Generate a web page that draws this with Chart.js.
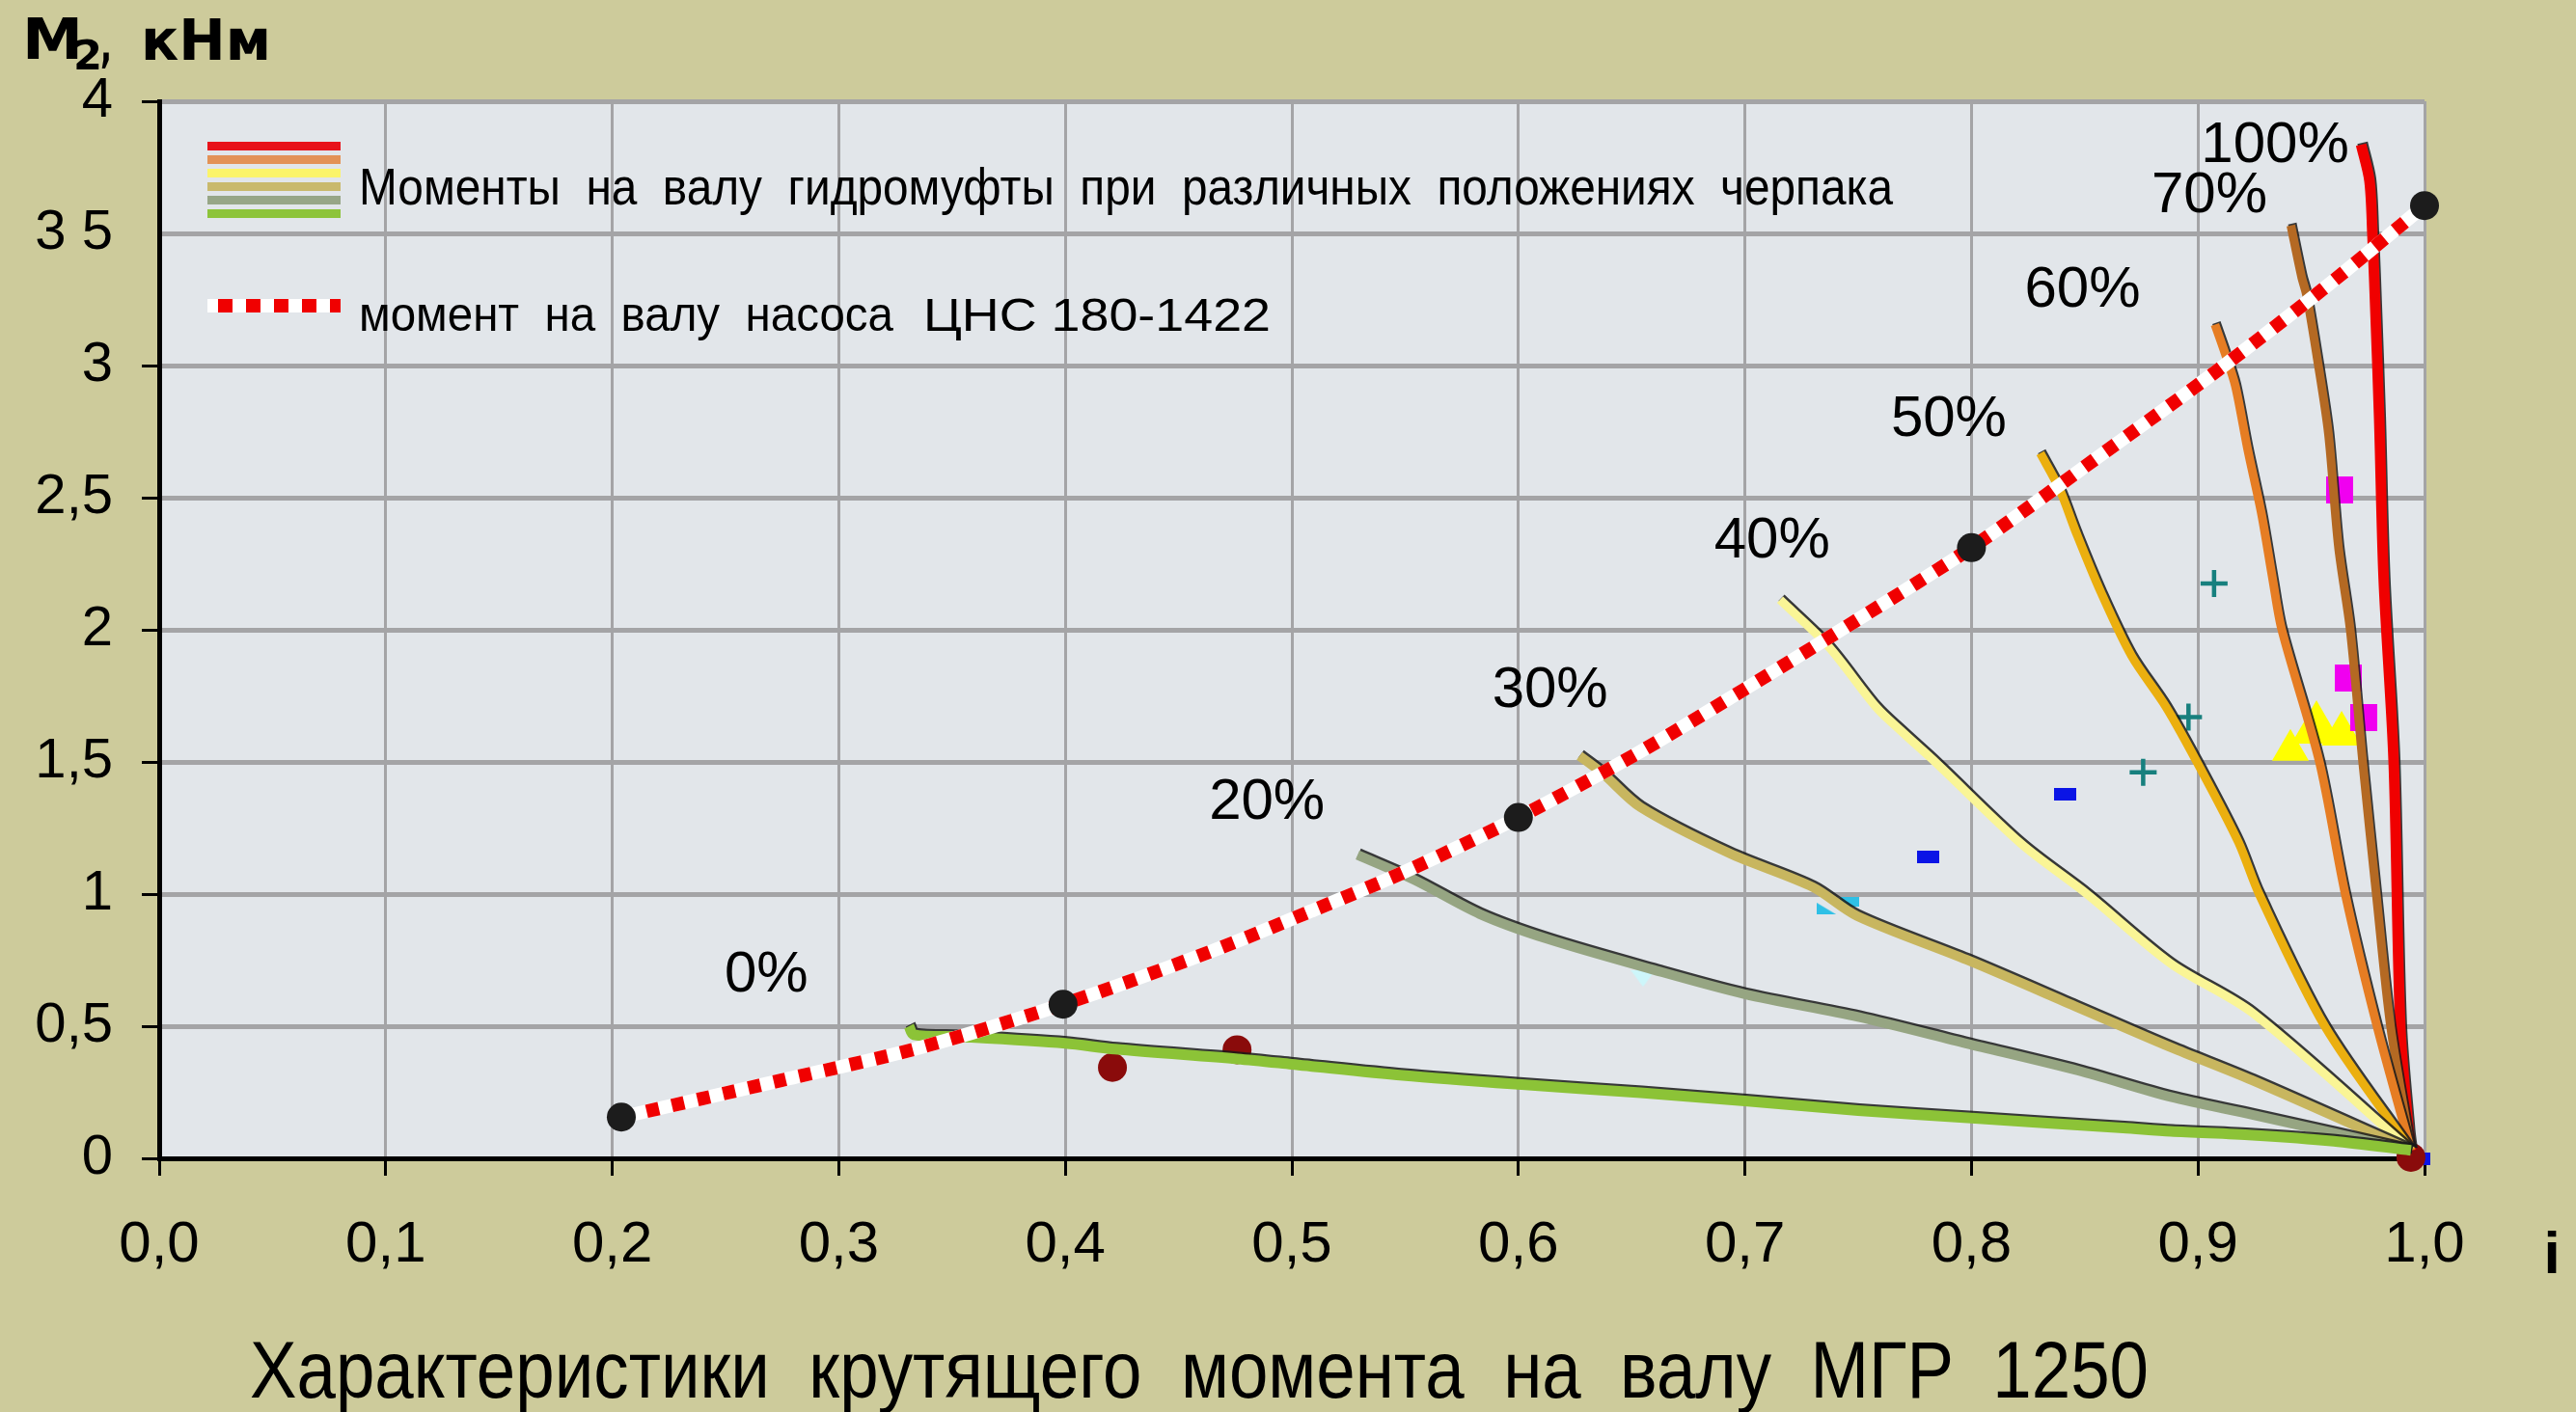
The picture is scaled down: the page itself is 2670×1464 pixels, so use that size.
<!DOCTYPE html>
<html lang="ru">
<head>
<meta charset="utf-8">
<title>Характеристики крутящего момента на валу МГР 1250</title>
<script src="https://cdn.jsdelivr.net/npm/chart.js@4.4.1/dist/chart.umd.min.js"></script>
<style>
  html, body { margin: 0; padding: 0; background: #CDCB9B; overflow: hidden; }
  canvas { display: block; }
</style>
</head>
<body>
<canvas id="chart" width="2670" height="1464"></canvas>
<script>
// ---- Axis tick labels ----
const xTickLabels = ['0,0', '0,1', '0,2', '0,3', '0,4', '0,5', '0,6', '0,7', '0,8', '0,9', '1,0'];
const yTickLabels = ['0', '0,5', '1', '1,5', '2', '2,5', '3', '3 5', '4'];

// ---- Scoop position captions ----
const scoopLabels = ['0%', '20%', '30%', '40%', '50%', '60%', '70%', '100%'];
const scoopLabelX = [0.268, 0.489, 0.614, 0.712, 0.790, 0.849, 0.905, 0.934];
const scoopLabelY = [0.691, 1.344, 1.770, 2.334, 2.794, 3.283, 3.639, 3.832];

// ---- Coupling shaft torque for each scoop position (i, M2) ----
const scoop0X   = [0.331, 0.333, 0.354, 0.400, 0.422, 0.476, 0.500, 0.549, 0.600, 0.654, 0.700, 0.750, 0.800, 0.867, 0.888, 0.924, 0.960, 0.994];
const scoop0Y   = [0.500, 0.468, 0.460, 0.435, 0.413, 0.376, 0.356, 0.314, 0.280, 0.248, 0.217, 0.181, 0.152, 0.115, 0.102, 0.088, 0.065, 0.030];
const scoop20X  = [0.529, 0.554, 0.583, 0.6125, 0.659, 0.700, 0.750, 0.798, 0.847, 0.888, 0.924, 0.994];
const scoop20Y  = [1.148, 1.054, 0.924, 0.831, 0.715, 0.621, 0.535, 0.434, 0.332, 0.232, 0.165, 0.030];
const scoop30X  = [0.627, 0.637, 0.654, 0.693, 0.730, 0.7495, 0.798, 0.847, 0.888, 0.924, 0.994];
const scoop30Y  = [1.523, 1.458, 1.328, 1.155, 1.026, 0.917, 0.751, 0.571, 0.420, 0.295, 0.030];
const scoop40X  = [0.7155, 0.7368, 0.758, 0.770, 0.784, 0.822, 0.851, 0.888, 0.924, 0.994];
const scoop40Y  = [2.114, 1.938, 1.707, 1.609, 1.500, 1.190, 1.000, 0.737, 0.551, 0.030];
const scoop50X  = [0.8304, 0.8388, 0.8464, 0.857, 0.8707, 0.886, 0.9011, 0.9179, 0.927, 0.956, 0.994];
const scoop50Y  = [2.668, 2.534, 2.364, 2.145, 1.901, 1.707, 1.475, 1.196, 1.000, 0.500, 0.030];
const scoop60X  = [0.9075, 0.912, 0.9165, 0.922, 0.928, 0.933, 0.937, 0.9536, 0.965, 0.979, 0.994];
const scoop60Y  = [3.155, 3.045, 2.923, 2.680, 2.440, 2.190, 2.000, 1.500, 1.000, 0.500, 0.030];
const scoop70X  = [0.941, 0.9457, 0.948, 0.953, 0.9576, 0.962, 0.9672, 0.9727, 0.9787, 0.985, 0.994];
const scoop70Y  = [3.530, 3.337, 3.264, 3.008, 2.741, 2.315, 2.000, 1.500, 1.000, 0.500, 0.030];
const scoop100X = [0.972, 0.9757, 0.977, 0.9785, 0.980, 0.982, 0.9864, 0.9893, 0.993, 0.994];
const scoop100Y = [3.836, 3.700, 3.500, 3.168, 2.800, 2.190, 1.500, 0.500, 0.100, 0.030];

// ---- Pump ЦНС 180-1422 shaft torque ----
const pumpX    = [0.204, 0.275, 0.335, 0.399, 0.464, 0.508, 0.550, 0.600, 0.652, 0.700, 0.750, 0.800, 0.864, 0.909, 0.955, 1.000];
const pumpY    = [0.156, 0.296, 0.417, 0.583, 0.782, 0.934, 1.085, 1.290, 1.530, 1.776, 2.040, 2.311, 2.704, 2.984, 3.288, 3.605];
const pumpDotX = [0.204, 0.399, 0.600, 0.800, 1.000];
const pumpDotY = [0.156, 0.583, 1.290, 2.311, 3.605];

// ---- Measured points ----
const maroonX  = [0.4208, 0.4758, 0.994];
const maroonY  = [0.344, 0.411, 0.004];
const blueX    = [0.7808, 0.8415, 0.9975];
const blueY    = [1.141, 1.378, 0.000];
const cyanX    = [0.746];
const cyanY    = [0.970];
const cyanTriX = [0.736];
const cyanTriY = [0.945];
const paleX    = [0.655];
const paleY    = [0.680];
const tealX    = [0.8758, 0.8958, 0.9071];
const tealY    = [1.461, 1.670, 2.175];
const magentaX = [0.9625, 0.9663, 0.973];
const magentaY = [2.529, 1.816, 1.668];
const yellowX  = [0.9408, 0.9523, 0.9634];
const yellowY  = [1.545, 1.624, 1.606];
const yellowR  = [22, 30, 24];

// ---- Styles ----
const scoopColors = ['#8CC337', '#96A582', '#C8B65F', '#FAF596', '#EBAF0F', '#E67D23', '#B46923', '#F00000'];
const scoopWidths = [11, 10, 10, 9, 9, 9, 9, 11];
const legendBarColors = ['#E8121A', '#E39256', '#FBF46A', '#C9B96C', '#97A687', '#8DC43A'];

const zip = (xs, ys) => xs.map((x, i) => ({ x, y: ys[i] }));

function sprite(w, h, color, shape) {
  const c = document.createElement('canvas');
  c.width = w; c.height = h;
  const g = c.getContext('2d');
  g.fillStyle = color;
  if (shape === 'rtri') {
    g.beginPath(); g.moveTo(0, 0); g.lineTo(w, h); g.lineTo(0, h); g.closePath(); g.fill();
  } else if (shape === 'dtri') {
    g.beginPath(); g.moveTo(0, 0); g.lineTo(w, 0); g.lineTo(w / 2, h); g.closePath(); g.fill();
  } else {
    g.fillRect(0, 0, w, h);
  }
  return c;
}

const curveSets = [
  [scoop0X, scoop0Y], [scoop20X, scoop20Y], [scoop30X, scoop30Y], [scoop40X, scoop40Y],
  [scoop50X, scoop50Y], [scoop60X, scoop60Y], [scoop70X, scoop70Y], [scoop100X, scoop100Y]
];

const datasets = [];

// markers lie beneath the curves
datasets.push({ label: 'maroon', data: zip(maroonX, maroonY), pointStyle: 'circle', pointRadius: 15,
  pointBackgroundColor: '#8A0B0B', pointBorderWidth: 0, order: 30, clip: false });
datasets.push({ label: 'blue', data: zip(blueX, blueY), pointStyle: sprite(23, 13, '#0A14E6'), pointRadius: 10, order: 30, clip: false });
datasets.push({ label: 'cyan', data: zip(cyanX, cyanY), pointStyle: sprite(20, 10, '#2FC0E6'), pointRadius: 10, order: 30 });
datasets.push({ label: 'cyanTri', data: zip(cyanTriX, cyanTriY), pointStyle: sprite(20, 12, '#2FC0E6', 'rtri'), pointRadius: 10, order: 30 });
datasets.push({ label: 'pale', data: zip(paleX, paleY), pointStyle: sprite(25, 17, '#CDF6FA', 'dtri'), pointRadius: 10, order: 30 });
datasets.push({ label: 'teal', data: zip(tealX, tealY), pointStyle: 'cross', pointRadius: 14,
  pointBorderColor: '#17807E', pointBorderWidth: 4.5, order: 30 });
datasets.push({ label: 'magenta', data: zip(magentaX, magentaY), pointStyle: sprite(28, 28, '#F000F0'), pointRadius: 10, order: 30 });
datasets.push({ label: 'yellow', data: zip(yellowX, yellowY), pointStyle: 'triangle', pointRadius: yellowR,
  pointBackgroundColor: '#FFFF00', pointBorderWidth: 0, order: 30 });

// coupling torque curves
curveSets.forEach(([xs, ys], i) => {
  datasets.push({
    label: scoopLabels[i], data: zip(xs, ys), showLine: true,
    borderColor: scoopColors[i], borderWidth: scoopWidths[i], pointRadius: 0,
    tension: 0.3, borderJoinStyle: 'round', borderCapStyle: 'butt',
    edgeColor: 'rgba(25,25,25,0.85)', order: 20
  });
});

// pump torque: white band with red dashes on top, then the black nodes
datasets.push({ label: 'pumpBase', data: zip(pumpX, pumpY), showLine: true, borderColor: '#FFFFFF',
  borderWidth: 14, pointRadius: 0, tension: 0.3, borderCapStyle: 'butt', order: 11 });
datasets.push({ label: 'pump', data: zip(pumpX, pumpY), showLine: true, borderColor: '#F00000',
  borderWidth: 14, borderDash: [13, 14], pointRadius: 0, tension: 0.3, borderCapStyle: 'butt', order: 10 });
datasets.push({ label: 'pumpDots', data: zip(pumpDotX, pumpDotY), pointStyle: 'circle', pointRadius: 15,
  pointBackgroundColor: '#1C1C1C', pointBorderWidth: 0, order: 0, clip: false });

// ---- Plugins ----
const backdrop = {
  id: 'backdrop',
  beforeDraw(chart) {
    const { ctx, chartArea: a } = chart;
    ctx.save();
    ctx.fillStyle = '#CDCB9B';
    ctx.fillRect(0, 0, chart.width, chart.height);
    ctx.fillStyle = '#E2E6EA';
    ctx.fillRect(a.left, a.top, a.right - a.left, a.bottom - a.top);
    ctx.restore();
  }
};

// thin dark edge along one side of each coupling curve
const curveEdge = {
  id: 'curveEdge',
  beforeDatasetDraw(chart, args) {
    const ds = chart.data.datasets[args.index];
    if (!ds.edgeColor) return;
    const ctx = chart.ctx;
    ctx.save();
    ctx.shadowColor = ds.edgeColor;
    ctx.shadowOffsetX = 1.5;
    ctx.shadowOffsetY = -2;
    ctx.shadowBlur = 0;
  },
  afterDatasetDraw(chart, args) {
    const ds = chart.data.datasets[args.index];
    if (ds.edgeColor) chart.ctx.restore();
  }
};

function fitText(ctx, text, x, y, w, font) {
  ctx.save();
  ctx.font = font;
  ctx.textAlign = 'left';
  ctx.textBaseline = 'alphabetic';
  const m = ctx.measureText(text).width;
  ctx.translate(x, y);
  ctx.scale(w / m, 1);
  ctx.fillText(text, 0, 0);
  ctx.restore();
}

const annotations = {
  id: 'annotations',
  afterDatasetsDraw(chart) {
    const { ctx, scales: { x, y } } = chart;
    ctx.save();
    ctx.fillStyle = '#000';
    // scoop position captions
    ctx.font = '60px "Liberation Sans", Arial, sans-serif';
    ctx.textAlign = 'center';
    ctx.textBaseline = 'middle';
    scoopLabels.forEach((t, i) => {
      ctx.fillText(t, x.getPixelForValue(scoopLabelX[i]), y.getPixelForValue(scoopLabelY[i]));
    });

    // legend: stacked colour bars for the coupling curves
    legendBarColors.forEach((c, i) => {
      ctx.fillStyle = c;
      ctx.fillRect(215, 147 + i * 14, 138, 9);
    });
    ctx.fillStyle = '#000';
    fitText(ctx, 'Моменты  на  валу  гидромуфты  при  различных  положениях  черпака',
      372, 212, 1590, '54px "Liberation Sans", Arial, sans-serif');

    // legend: dotted pump line
    ctx.fillStyle = '#FFFFFF';
    ctx.fillRect(215, 310, 138, 14);
    ctx.fillStyle = '#F00000';
    for (let px = 226; px < 353; px += 29) ctx.fillRect(px, 310, Math.min(15, 353 - px), 14);
    ctx.fillStyle = '#000';
    fitText(ctx, 'момент  на  валу  насоса', 372, 343, 554, '50px "Liberation Sans", Arial, sans-serif');
    fitText(ctx, 'ЦНС 180-1422', 957, 343, 360, '49px "Liberation Sans", Arial, sans-serif');
    ctx.restore();
  },
  afterDraw(chart) {
    const ctx = chart.ctx;
    ctx.save();
    ctx.fillStyle = '#000';
    // vertical axis caption
    fitText(ctx, 'М', 23, 61, 63, 'bold 58px "DejaVu Sans", sans-serif');
    fitText(ctx, '2', 76, 72, 30, 'bold 42px "DejaVu Sans", sans-serif');
    fitText(ctx, ',', 104, 64, 12, 'bold 50px "DejaVu Sans", sans-serif');
    fitText(ctx, 'кНм', 146, 62, 135, 'bold 58px "DejaVu Sans", sans-serif');
    // horizontal axis caption
    ctx.font = 'bold 62px "Liberation Sans", Arial, sans-serif';
    ctx.textAlign = 'center';
    ctx.textBaseline = 'alphabetic';
    ctx.fillText('i', 2645, 1320);
    // chart caption
    fitText(ctx, 'Характеристики  крутящего  момента  на  валу  МГР  1250', 259, 1449, 1968,
      '84px "Liberation Sans", Arial, sans-serif');
    ctx.restore();
  }
};

const tickFont = { family: '"Liberation Sans", Arial, sans-serif', size: 58 };

new Chart(document.getElementById('chart'), {
  type: 'scatter',
  data: { datasets },
  plugins: [backdrop, curveEdge, annotations],
  options: {
    responsive: false,
    animation: false,
    devicePixelRatio: 1,
    events: [],
    layout: { padding: { top: 105, right: 157, left: 0, bottom: 0 } },
    plugins: { legend: { display: false }, tooltip: { enabled: false }, title: { display: false } },
    scales: {
      x: {
        type: 'linear', min: 0, max: 1,
        ticks: {
          stepSize: 0.1, autoSkip: false, maxRotation: 0, padding: 36, color: '#000',
          font: { ...tickFont, size: 60 },
          callback: (v, i) => xTickLabels[i]
        },
        grid: { color: '#A4A4A6', lineWidth: 3, tickColor: '#000', tickLength: 18, tickWidth: 3 },
        border: { color: '#000', width: 5 },
        afterFit: (s) => { s.height = 263; }
      },
      y: {
        type: 'linear', min: 0, max: 4,
        ticks: {
          stepSize: 0.5, autoSkip: false, padding: 30, color: '#000', font: tickFont,
          callback: (v, i) => yTickLabels[i]
        },
        grid: {
          color: '#A4A4A6', lineWidth: 5, tickLength: 18, tickWidth: 3,
          tickColor: (c) => (c.tick && c.tick.value === 3.5 ? 'rgba(0,0,0,0)' : '#000')
        },
        border: { color: '#000', width: 5 },
        afterFit: (s) => { s.width = 165; }
      }
    }
  }
});
</script>
</body>
</html>
